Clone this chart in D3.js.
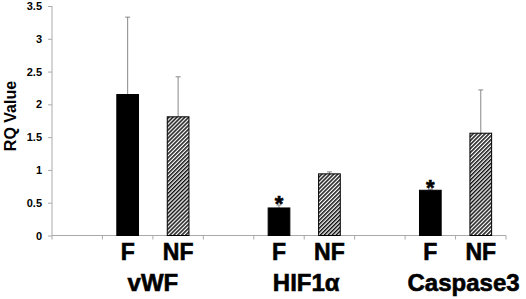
<!DOCTYPE html>
<html>
<head>
<meta charset="utf-8">
<script src="https://cdn.jsdelivr.net/npm/d3@7"></script>
<style>
  body { margin: 0; background: #fff; }
  svg text { font-family: Arial, "Liberation Sans", sans-serif !important; font-weight: 700 !important; fill: #000; }
  svg text.big { stroke: #000; stroke-width: 0.6px; }
</style>
</head>
<body>
<div id="chart"></div>
<script>
// slots along the x axis: blank gap, F, NF for each gene
var slots = ['g1', 'vWF-F', 'vWF-NF', 'g2', 'HIF-F', 'HIF-NF', 'g3', 'Casp-F', 'Casp-NF'];
var genes = ['vWF', 'HIF1\u03b1', 'Caspase3'];
var groups = ['F', 'NF'];
var means = [2.15, 1.81, 0.42, 0.94, 0.69, 1.56];
var errTops = [3.33, 2.42, 0.465, 0.97, 0.705, 2.22];
var starred = [false, false, true, false, true, false];
var yTicks = [0, 0.5, 1, 1.5, 2, 2.5, 3, 3.5];

var width = 526, height = 299;
var margin = { left: 52, right: 20, top: 6, bottom: 63.5 };

var svg = d3.select('#chart').append('svg')
  .attr('width', width)
  .attr('height', height);

var defs = svg.append('defs');
var pat = defs.append('pattern')
  .attr('id', 'hatch')
  .attr('patternUnits', 'userSpaceOnUse')
  .attr('width', 2.8).attr('height', 2.8)
  .attr('patternTransform', 'rotate(45)');
pat.append('rect').attr('width', 2.8).attr('height', 2.8).attr('fill', '#fff');
pat.append('rect').attr('width', 1.5).attr('height', 2.8).attr('fill', '#111');

var x = d3.scaleBand()
  .domain(slots)
  .range([margin.left, width - margin.right]);

var y = d3.scaleLinear()
  .domain([0, 3.5])
  .range([height - margin.bottom, margin.top]);

// y axis
var yAxis = svg.append('g')
  .attr('transform', 'translate(' + margin.left + ',0)')
  .call(d3.axisLeft(y).tickValues(yTicks).tickSize(4).tickPadding(6).tickFormat(d => d));
yAxis.selectAll('path, line').attr('stroke', '#aaa');
yAxis.select('path').attr('d', 'M0,' + y(3.5) + 'V' + y(0));
yAxis.selectAll('text').style('font-size', '11px');

// x axis line + boundary ticks
var xg = svg.append('g');
var y0 = y(0);
xg.append('line')
  .attr('x1', x.range()[0]).attr('x2', x.range()[1])
  .attr('y1', y0).attr('y2', y0)
  .attr('stroke', '#aaa');
var bounds = slots.map(s => x(s)).concat([x.range()[1]]);
xg.selectAll('.bt').data(bounds).enter().append('line')
  .attr('x1', d => d).attr('x2', d => d)
  .attr('y1', y0).attr('y2', y0 + 4)
  .attr('stroke', '#aaa');

// bars
var barSlots = slots.filter(s => s.indexOf('-') > 0);
var bw = x.bandwidth() * 0.43;
var data = barSlots.map((s, i) => ({
  slot: s, mean: means[i], top: errTops[i], star: starred[i], kind: i % 2
}));

// error bars first (behind bars)
var eb = svg.append('g').selectAll('g').data(data).enter().append('g');
eb.append('line')
  .attr('x1', d => x(d.slot) + x.bandwidth() / 2)
  .attr('x2', d => x(d.slot) + x.bandwidth() / 2)
  .attr('y1', d => y(d.mean))
  .attr('y2', d => y(d.top))
  .attr('stroke', '#888').attr('stroke-width', 1);
eb.append('line')
  .attr('x1', d => x(d.slot) + x.bandwidth() / 2 - 2.5)
  .attr('x2', d => x(d.slot) + x.bandwidth() / 2 + 2.5)
  .attr('y1', d => y(d.top))
  .attr('y2', d => y(d.top))
  .attr('stroke', '#888').attr('stroke-width', 1);

svg.append('g').selectAll('rect').data(data).enter().append('rect')
  .attr('x', d => x(d.slot) + (x.bandwidth() - bw) / 2)
  .attr('width', bw)
  .attr('y', d => y(d.mean))
  .attr('height', d => y0 - y(d.mean))
  .attr('fill', d => d.kind ? 'url(#hatch)' : '#000')
  .attr('stroke', '#000')
  .attr('stroke-width', 1);

// asterisks
svg.append('g').selectAll('text').data(data.filter(d => d.star)).enter().append('text')
  .attr('class', 'big')
  .attr('x', d => x(d.slot) + x.bandwidth() / 2)
  .attr('y', d => y(d.top) + 6)
  .attr('text-anchor', 'middle')
  .style('font-size', '22px')
  .text('*');

// F / NF labels
svg.append('g').selectAll('text').data(data).enter().append('text')
  .attr('class', 'big')
  .attr('x', d => x(d.slot) + x.bandwidth() / 2)
  .attr('y', 260)
  .attr('text-anchor', 'middle')
  .style('font-size', '23px')
  .text(d => groups[d.kind]);

// gene labels
var geneDx = [0, 2, 8];
svg.append('g').selectAll('text').data(genes).enter().append('text')
  .attr('class', 'big')
  .attr('x', (d, i) => (x(barSlots[i * 2]) + x(barSlots[i * 2 + 1]) + x.bandwidth()) / 2 + geneDx[i])
  .attr('y', 291)
  .attr('text-anchor', 'middle')
  .style('font-size', '24px')
  .text(d => d);

// y title
svg.append('text')
  .attr('transform', 'translate(16,116) rotate(-90)')
  .attr('text-anchor', 'middle')
  .style('font-size', '16px')
  .text('RQ Value');
</script>
</body>
</html>
